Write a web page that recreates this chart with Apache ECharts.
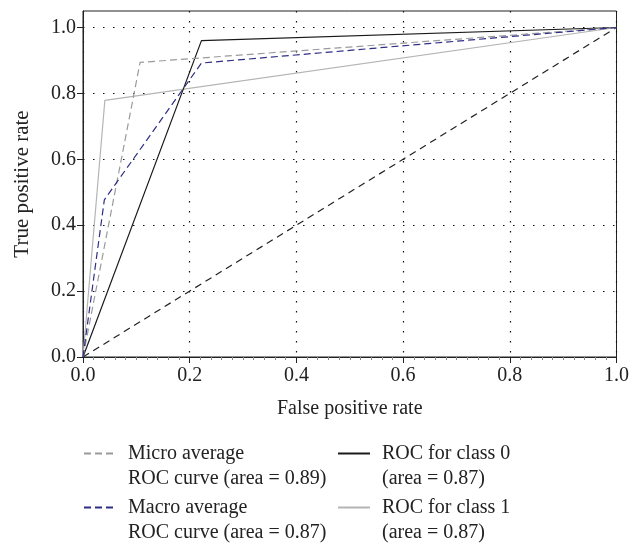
<!DOCTYPE html>
<html>
<head>
<meta charset="utf-8">
<script src="https://cdn.jsdelivr.net/npm/echarts@6/dist/echarts.min.js"></script>
<style>
  html, body { margin: 0; padding: 0; background: #fff; }
  #chart { width: 632px; height: 547px; }
</style>
</head>
<body>
<div id="chart"></div>
<script>
// ROC curves, values
var chanceFpr = [0, 1];
var chanceTpr = [0, 1];

var microFpr = [0, 0.107, 1];
var microTpr = [0, 0.894, 1];

var macroFpr = [0, 0.04, 0.222, 1];
var macroTpr = [0, 0.477, 0.892, 1];

var class0Fpr = [0, 0.222, 1];
var class0Tpr = [0, 0.96, 1];

var class1Fpr = [0, 0.041, 1];
var class1Tpr = [0, 0.779, 1];

var tickValues = [0, 0.2, 0.4, 0.6, 0.8, 1.0];

var legendNames = [
  'Micro average\nROC curve (area = 0.89)',
  'Macro average\nROC curve (area = 0.87)',
  'ROC for class 0\n(area = 0.87)',
  'ROC for class 1\n(area = 0.87)'
];

function pairs(xs, ys) {
  var out = [];
  for (var i = 0; i < xs.length; i++) {
    out.push([xs[i], ys[i]]);
  }
  return out;
}

var font = '"Liberation Serif", "DejaVu Serif", serif';
var ink = '#222';

var chart = echarts.init(document.getElementById('chart'));

function lineSeries(name, xs, ys, color, type, z) {
  return {
    name: name,
    type: 'line',
    data: pairs(xs, ys),
    symbol: 'none',
    silent: true,
    animation: false,
    z: z,
    itemStyle: { color: color },
    lineStyle: { color: color, width: 1.2, type: type }
  };
}

// empty first line so the legend line sits level with the first text line
function legendAt(name, left, top) {
  return {
    data: [name],
    left: left,
    top: top,
    orient: 'vertical',
    itemWidth: 32,
    itemHeight: 14,
    selectedMode: false,
    itemStyle: { opacity: 0 },
    formatter: function(n) { return '\n' + n; },
    textStyle: {
      fontFamily: font,
      fontSize: 20,
      color: ink,
      lineHeight: 25,
      padding: [0, 0, 0, 7]
    }
  };
}

var option = {
  backgroundColor: '#fff',
  animation: false,
  grid: {
    left: 83,
    right: 15,
    top: 11,
    bottom: 190,
    show: true,
    borderColor: ink,
    borderWidth: 1
  },
  xAxis: {
    type: 'value',
    min: 0,
    max: 1,
    interval: 0.2,
    name: 'False positive rate',
    nameLocation: 'middle',
    nameGap: 42,
    nameTextStyle: { fontFamily: font, fontSize: 20, color: ink },
    axisLine: { show: true, lineStyle: { color: ink, width: 1 } },
    axisTick: { show: true, length: 6, lineStyle: { color: ink } },
    minorTick: { show: true, splitNumber: 10, length: 3, lineStyle: { color: '#888' } },
    axisLabel: {
      fontFamily: font, fontSize: 20, color: ink, margin: 9,
      formatter: function(v) { return v.toFixed(1); }
    },
    splitLine: { show: true, lineStyle: { color: '#111', width: 1.2, type: [1.5, 8.5] } }
  },
  yAxis: {
    type: 'value',
    min: 0,
    max: 1.05,
    interval: 0.2,
    name: 'True positive rate',
    nameLocation: 'middle',
    nameGap: 50,
    nameTextStyle: { fontFamily: font, fontSize: 21, color: ink },
    axisLine: { show: true, lineStyle: { color: ink, width: 1 } },
    axisTick: { show: true, length: 6, customValues: tickValues, lineStyle: { color: ink } },
    axisLabel: {
      fontFamily: font, fontSize: 20, color: ink, margin: 7,
      customValues: tickValues,
      formatter: function(v) { return v > 1.001 ? '' : v.toFixed(1); }
    },
    splitLine: { show: true, lineStyle: { color: '#111', width: 1.2, type: [1.5, 8.5] } }
  },
  legend: [
    legendAt(legendNames[0], 78, 411),
    legendAt(legendNames[1], 78, 465),
    legendAt(legendNames[2], 332, 411),
    legendAt(legendNames[3], 332, 465)
  ],
  series: [
    lineSeries('chance', chanceFpr, chanceTpr, '#222', [7, 5], 2),
    lineSeries(legendNames[3], class1Fpr, class1Tpr, '#b4b4b4', 'solid', 3),
    lineSeries(legendNames[2], class0Fpr, class0Tpr, '#1a1a1a', 'solid', 4),
    lineSeries(legendNames[0], microFpr, microTpr, '#9a9a9a', [7, 4], 5),
    lineSeries(legendNames[1], macroFpr, macroTpr, '#2e2e86', [7, 4], 6)
  ]
};

chart.setOption(option);
</script>
</body>
</html>
